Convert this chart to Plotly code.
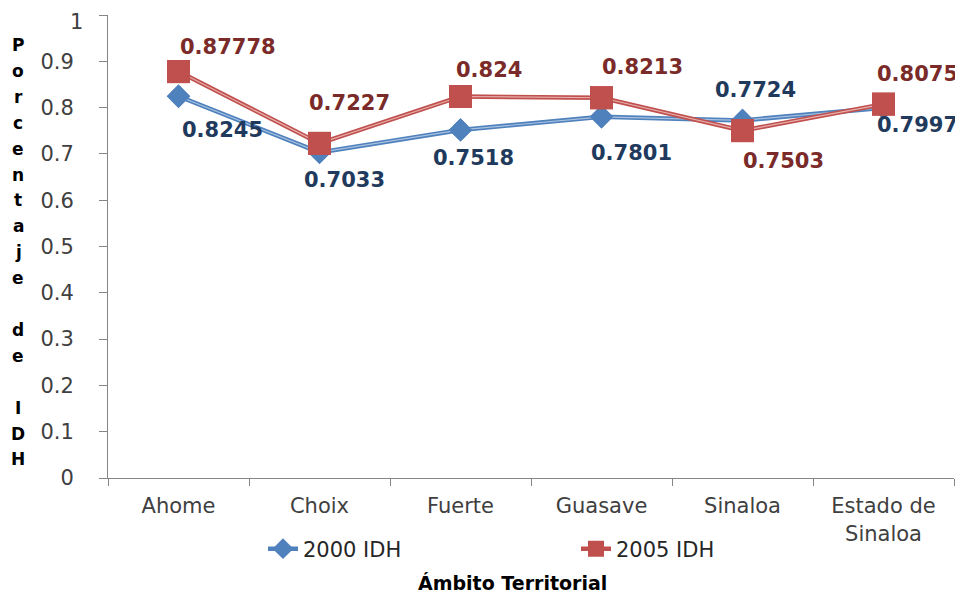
import plotly.graph_objects as go

categories = ["Ahome", "Choix", "Fuerte", "Guasave", "Sinaloa", "Estado de<br>Sinaloa"]
idh_2000 = [0.8245, 0.7033, 0.7518, 0.7801, 0.7724, 0.7997]
idh_2005 = [0.87778, 0.7227, 0.824, 0.8213, 0.7503, 0.8075]
labels_2000 = ["0.8245", "0.7033", "0.7518", "0.7801", "0.7724", "0.7997"]
labels_2005 = ["0.87778", "0.7227", "0.824", "0.8213", "0.7503", "0.8075"]
y_ticks = [0, 0.1, 0.2, 0.3, 0.4, 0.5, 0.6, 0.7, 0.8, 0.9, 1]
y_ticktext = ["0", "0.1", "0.2", "0.3", "0.4", "0.5", "0.6", "0.7", "0.8", "0.9", "1"]
y_title_letters = ["P", "o", "r", "c", "e", "n", "t", "a", "j", "e", "", "d", "e", "", "I", "D", "H"]
x_title = "Ámbito Territorial"
series_names = ["2000 IDH", "2005 IDH"]

# label offsets (pixels) relative to each point
shift_2000 = [(44, -34), (25, -28), (13, -28), (30, -36), (13, 30), (34, -17)]
shift_2005 = [(49, 25), (30, 40), (28, 26), (41, 31), (41, -30), (34, 30)]

BLUE = "#4F81BD"
BLUE_HI = "#A9C1E0"
RED = "#C0504D"
RED_HI = "#E7AFAD"
BLUE_TXT = "#1F3A5C"
RED_TXT = "#7A2B29"
FONT = "DejaVu Sans, Verdana, sans-serif"
TICK_COL = "#404040"

# page body has an 8px margin; work in figure pixels
OFF = 8
W, H = 955, 587
L, T = 108 - OFF, 15 - OFF
R = W - (954 - OFF)
B = H - (478 - OFF)
PW, PH = W - L - R, H - T - B


def px_x(xs):
    return (xs - OFF - L) / PW


def px_y(ys):
    return (H - B - (ys - OFF)) / PH


fig = go.Figure()


def add_series(vals, name, col, hi, symbol, size):
    fig.add_trace(go.Scatter(x=categories, y=vals, mode="lines+markers", name=name,
                             line=dict(color=col, width=4.5),
                             marker=dict(symbol=symbol, size=size, color=col, line=dict(width=0)),
                             showlegend=True))
    fig.add_trace(go.Scatter(x=categories, y=vals, mode="lines", line=dict(color=hi, width=1.2),
                             showlegend=False, hoverinfo="skip"))
    fig.add_trace(go.Scatter(x=categories, y=vals, mode="markers",
                             marker=dict(symbol=symbol, size=size, color=col, line=dict(width=0)),
                             showlegend=False, hoverinfo="skip"))


add_series(idh_2000, series_names[0], BLUE, BLUE_HI, "diamond", 18)
add_series(idh_2005, series_names[1], RED, RED_HI, "square", 23)

for cat, v, txt, (dx, dy) in zip(categories, idh_2000, labels_2000, shift_2000):
    fig.add_annotation(x=cat, y=v, text=txt, showarrow=False, xshift=dx, yshift=dy,
                       font=dict(family=FONT, size=21, color=BLUE_TXT, weight="bold"))
for cat, v, txt, (dx, dy) in zip(categories, idh_2005, labels_2005, shift_2005):
    fig.add_annotation(x=cat, y=v, text=txt, showarrow=False, xshift=dx, yshift=dy,
                       font=dict(family=FONT, size=21, color=RED_TXT, weight="bold"))

# the top tick label would be clipped by the page edge: draw it just inside
tick_text_shown = list(y_ticktext)
tick_text_shown[-1] = ""
fig.add_annotation(x=px_x(85), y=px_y(8), xref="paper", yref="paper", text=y_ticktext[-1],
                   showarrow=False, xanchor="right", yanchor="top",
                   font=dict(family=FONT, size=21, color=TICK_COL))

# vertical stacked axis title
for i, ch in enumerate(y_title_letters):
    if not ch:
        continue
    ys = 45 + i * 25.9
    fig.add_annotation(x=px_x(18), y=px_y(ys), xref="paper", yref="paper",
                       text=ch, showarrow=False, xanchor="center", yanchor="middle",
                       font=dict(family=FONT, size=17, color="black", weight="bold"))

fig.add_annotation(x=px_x(512), y=px_y(583), xref="paper", yref="paper",
                   text=x_title, showarrow=False, xanchor="center", yanchor="middle",
                   font=dict(family=FONT, size=19, color="black", weight="bold"))

fig.update_layout(
    width=W, height=H,
    margin=dict(l=L, r=R, t=T, b=B, autoexpand=False),
    paper_bgcolor="white", plot_bgcolor="white",
    font=dict(family=FONT, size=21, color=TICK_COL),
    showlegend=True,
    legend=dict(orientation="h", x=px_x(263), xanchor="left", y=px_y(549),
                yanchor="middle", entrywidth=268, font=dict(size=21, color="#262626"),
                bgcolor="rgba(0,0,0,0)"),
    xaxis=dict(type="category", range=[-0.5, 5.5], showline=True, linecolor="#868686", linewidth=1,
               ticks="outside", tickson="boundaries", ticklen=7, tickcolor="#868686",
               showgrid=False, zeroline=False, automargin=False, ticklabelstandoff=9,
               ticklabeloverflow="allow", tickfont=dict(size=21, color=TICK_COL)),
    yaxis=dict(range=[0, 1], tickvals=y_ticks, ticktext=tick_text_shown, showline=True,
               linecolor="#868686", linewidth=1, ticks="outside", ticklen=8, tickcolor="#868686",
               showgrid=False, zeroline=False, automargin=False, ticklabeloverflow="allow",
               tickfont=dict(size=21, color=TICK_COL), ticklabelstandoff=21),
)

fig.write_html("out.html")
